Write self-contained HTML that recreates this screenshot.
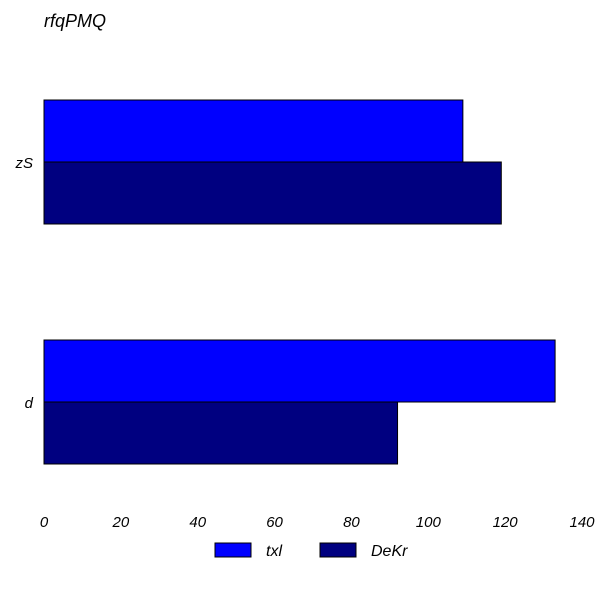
<!DOCTYPE html>
<html><head><meta charset="utf-8"><style>
body{margin:0;background:#fff;}
svg text{font-family:"Liberation Sans",sans-serif;font-style:italic;}
</style></head><body>
<svg id="chart" width="608" height="608" xmlns="http://www.w3.org/2000/svg">
<rect width="608" height="608" fill="#fff"/>
<text x="44" y="27" font-size="18" fill="#000">rfqPMQ</text>
<g id="bars"></g><g id="yticks"></g><g id="xticks"></g>
<g>
<rect x="215" y="543" width="36" height="14" fill="#0000ff" stroke="#000"/>
<text x="266" y="556" font-size="16">txl</text>
<rect x="320" y="543" width="36" height="14" fill="#000080" stroke="#000"/>
<text x="371" y="556" font-size="16">DeKr</text>
</g>
</svg>
<script>
const categories = ["zS","d"];
const txlValues = [109,133];
const dekrValues = [119,92];
const xTicks = [0,20,40,60,80,100,120,140];
const NS="http://www.w3.org/2000/svg";
const x0=44,x1=582,xMax=140;
const xs=v=>x0+(v/xMax)*(x1-x0);
const plotTop=42,band=240;
const yc=i=>plotTop+band*i+band/2;
const bh=62;
function mk(tag,attrs,parent){const e=document.createElementNS(NS,tag);for(const k in attrs)e.setAttribute(k,attrs[k]);parent.appendChild(e);return e;}
const bars=document.getElementById('bars'),yt=document.getElementById('yticks'),xt=document.getElementById('xticks');
categories.forEach((c,i)=>{
 const r1=mk('rect',{x:xs(0),y:yc(i)-bh,width:xs(txlValues[i])-xs(0),height:bh,fill:'#0000ff',stroke:'#000','stroke-width':1},bars);
 
 
 const r2=mk('rect',{x:xs(0),y:yc(i),width:xs(dekrValues[i])-xs(0),height:bh,fill:'#000080',stroke:'#000','stroke-width':1},bars);
 
 
 const t=mk('text',{x:33,y:yc(i)+6,'font-size':15,'text-anchor':'end'},yt);
 t.textContent=c;
 
 
});
xTicks.forEach(v=>{
 const t=mk('text',{x:xs(v),y:527,'font-size':15,'text-anchor':'middle'},xt);
 t.textContent=v;
 
 
});
</script>
</body></html>
